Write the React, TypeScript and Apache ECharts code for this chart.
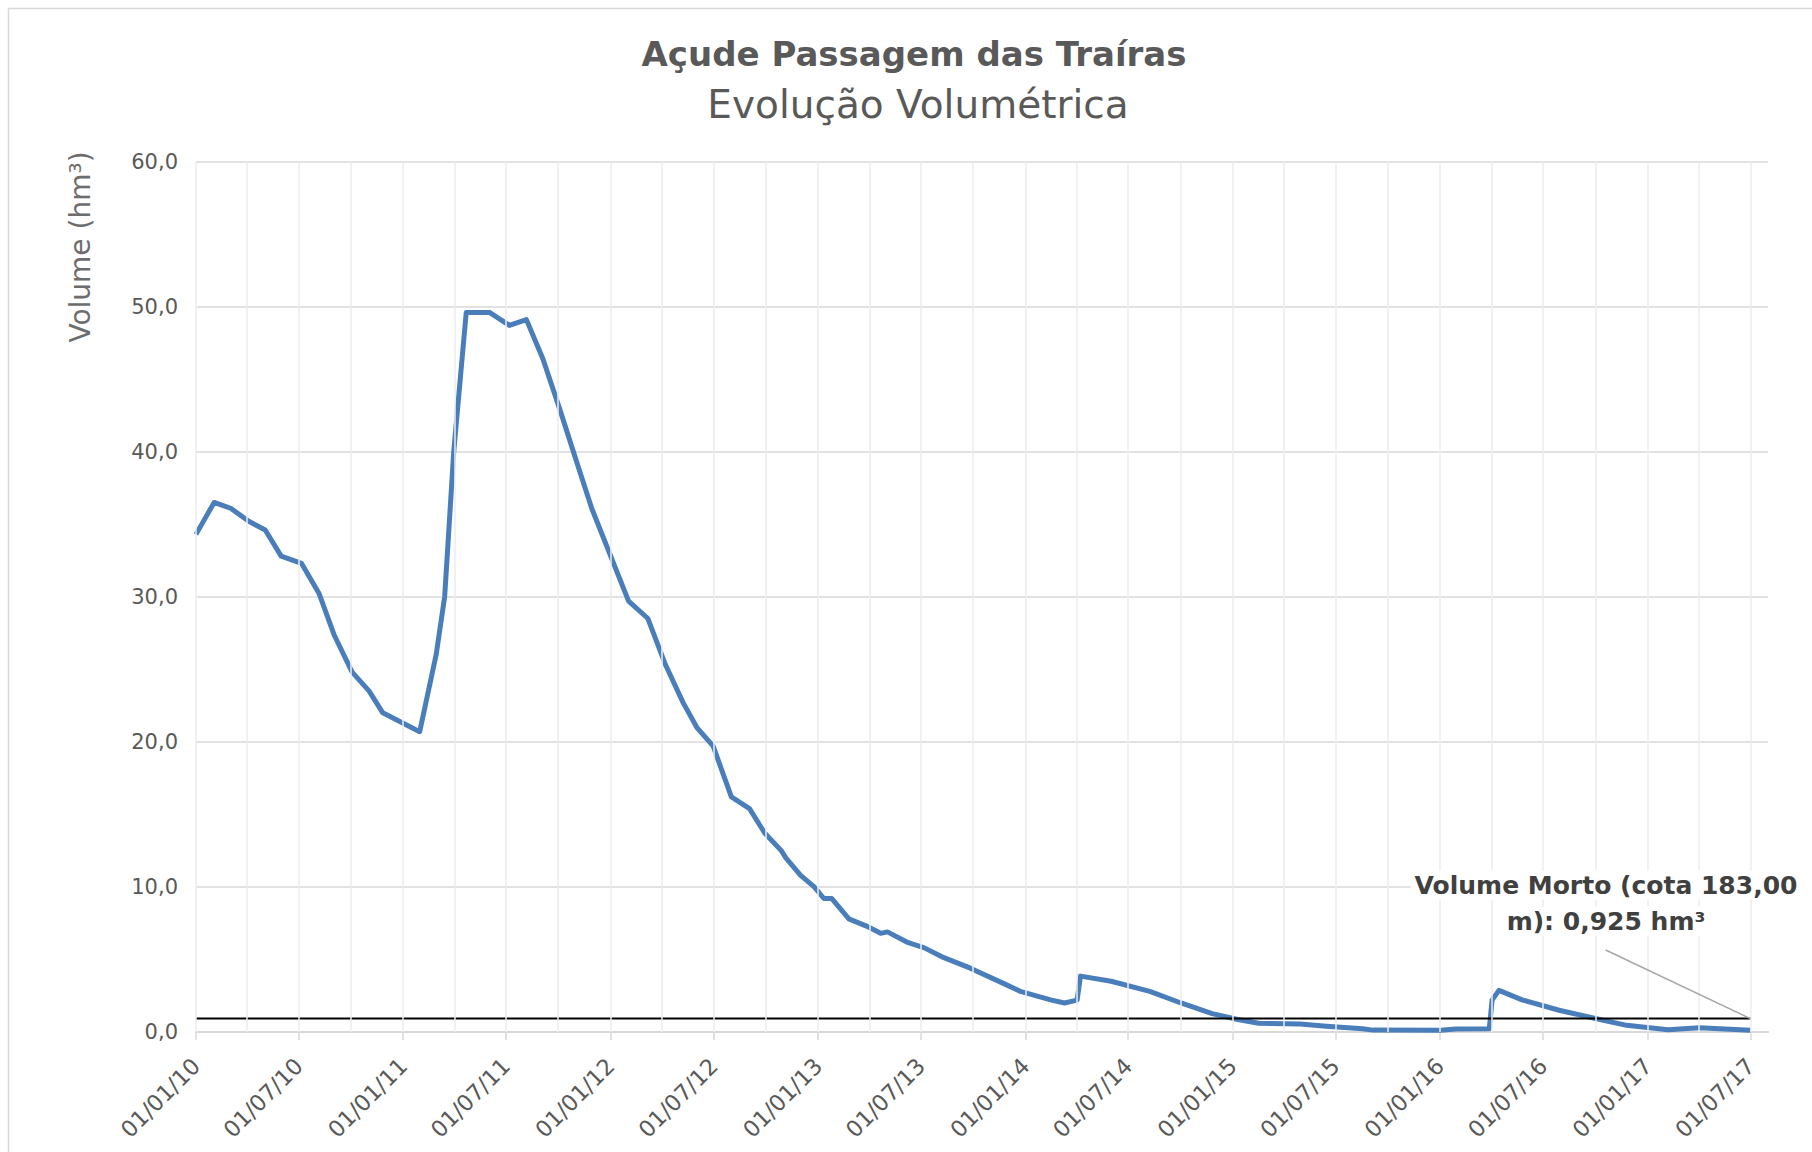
import React, { useEffect, useRef } from "react";
import * as echarts from "echarts";

// Blue series: reservoir volume (hm³) over time
const dates: string[] = [
  "2010-01-01", "2010-02-02", "2010-03-03", "2010-04-04", "2010-05-03", "2010-05-31",
  "2010-07-06", "2010-08-06", "2010-09-01", "2010-10-03", "2010-11-02", "2010-11-26",
  "2011-01-30", "2011-02-28", "2011-03-15", "2011-03-31", "2011-04-22", "2011-06-02",
  "2011-07-07", "2011-08-06", "2011-09-04", "2011-10-04", "2011-11-05", "2011-11-29",
  "2012-02-02", "2012-03-07", "2012-04-06", "2012-05-08", "2012-06-01", "2012-06-30",
  "2012-08-01", "2012-09-02", "2012-09-29", "2012-10-28", "2012-11-05", "2012-12-01",
  "2012-12-25", "2013-01-11", "2013-01-25", "2013-02-24", "2013-03-27", "2013-04-21",
  "2013-05-03", "2013-06-06", "2013-07-07", "2013-08-06", "2013-09-26", "2013-11-26",
  "2013-12-23", "2014-02-16", "2014-03-11", "2014-04-02", "2014-04-08", "2014-06-01",
  "2014-08-08", "2014-10-02", "2014-11-26", "2015-01-10", "2015-02-16", "2015-04-30",
  "2015-06-15", "2015-08-18", "2015-09-05", "2016-01-02", "2016-01-29", "2016-03-28",
  "2016-04-02", "2016-04-14", "2016-05-26", "2016-07-29", "2016-10-01", "2016-11-25",
  "2017-02-06", "2017-04-02", "2017-05-17", "2017-07-01",
];
const volumes: number[] = [
  34.3, 36.5, 36.1, 35.2, 34.6, 32.8,
  32.3, 30.2, 27.4, 24.8, 23.5, 22.0,
  20.7, 26.0, 30.0, 40.0, 49.6, 49.6,
  48.7, 49.1, 46.4, 42.9, 39.0, 36.1,
  29.7, 28.5, 25.4, 22.7, 21.0, 19.7,
  16.2, 15.4, 13.7, 12.5, 12.0, 10.8,
  10.0, 9.2, 9.2, 7.8, 7.3, 6.8,
  6.9, 6.2, 5.8, 5.2, 4.4, 3.3,
  2.8, 2.2, 2.0, 2.2, 3.85, 3.5,
  2.8, 2.0, 1.27, 0.86, 0.6, 0.55,
  0.4, 0.23, 0.13, 0.12, 0.2, 0.22,
  2.2, 2.87, 2.2, 1.5, 0.93, 0.46,
  0.15, 0.3, 0.2, 0.12,
];

// Dead volume reference line
const deadVolume = 0.925;
const deadLineDates: string[] = ["2010-01-01", "2017-07-01"];
// Leader line from annotation to the end of the dead-volume line
const leaderFrom: [string, number] = ["2016-10-19", 5.65];
const leaderTo: [string, number] = ["2017-07-01", 0.925];

// Axis ticks
const tickDates: string[] = [
  "2010-01-01", "2010-07-01", "2011-01-01", "2011-07-01", "2012-01-01", "2012-07-01",
  "2013-01-01", "2013-07-01", "2014-01-01", "2014-07-01", "2015-01-01", "2015-07-01",
  "2016-01-01", "2016-07-01", "2017-01-01", "2017-07-01",
];
const xMin = "2010-01-01";
const xMax = "2017-08-01";
const yMin = 0;
const yMax = 60;
const yStep = 10;

const titleText = "Açude Passagem das Traíras";
const subtitleText = "Evolução Volumétrica";
const yAxisName = "Volume (hm³)";
const noteLines = ["Volume Morto (cota 183,00", "m): 0,925 hm³"];

const FONT = "DejaVu Sans";

const ts = (d: string) => {
  const [y, m, dd] = d.split("-").map(Number);
  return Date.UTC(y, m - 1, dd);
};
const pad = (n: number) => (n < 10 ? "0" + n : "" + n);

export default function App() {
  const ref = useRef<HTMLDivElement>(null);
  useEffect(() => {
    document.body.style.margin = "0";
    const chart = echarts.init(ref.current!, null, { renderer: "svg" });

    const tickTs = tickDates.map(ts);
    // quarterly vertical grid lines
    const quarterLines: { xAxis: number }[] = [];
    for (let y = 2010; y <= 2017; y++) {
      for (let m = 0; m < 12; m += 3) {
        const t = Date.UTC(y, m, 1);
        if (t <= ts("2017-07-01")) quarterLines.push({ xAxis: t });
      }
    }

    const noteStyle = {
      align: "center",
      verticalAlign: "middle",
      fontSize: 25,
      fontWeight: "bold",
      fontFamily: FONT,
      fill: "#404040",
      backgroundColor: "#ffffff",
      padding: [2, 4],
    };

    const option: any = {
      animation: false,
      backgroundColor: "#ffffff",
      grid: { left: 196, right: 44, top: 161.5, bottom: 120, containLabel: false },
      xAxis: {
        type: "value",
        min: ts(xMin),
        max: ts(xMax),
        scale: true,
        axisLine: { show: true, onZero: false, lineStyle: { color: "#d9d9d9", width: 2 } },
        axisTick: {
          show: true,
          customValues: tickTs,
          length: 8,
          lineStyle: { color: "#d9d9d9", width: 1.5 },
        },
        axisLabel: {
          customValues: tickTs,
          rotate: 45,
          margin: 30,
          fontSize: 22.5,
          fontFamily: FONT,
          color: "#595959",
          hideOverlap: false,
          formatter: (v: number) => {
            const d = new Date(v);
            return pad(d.getUTCDate()) + "/" + pad(d.getUTCMonth() + 1) + "/" + pad(d.getUTCFullYear() % 100);
          },
        },
        splitLine: { show: false },
      },
      yAxis: {
        type: "value",
        min: yMin,
        max: yMax,
        interval: yStep,
        axisLine: { show: false },
        axisTick: { show: false },
        axisLabel: {
          margin: 18,
          fontSize: 21,
          fontFamily: FONT,
          color: "#595959",
          formatter: (v: number) => v.toFixed(1).replace(".", ","),
        },
        splitLine: { lineStyle: { color: "#d9d9d9", width: 1.5 } },
      },
      series: [
        {
          type: "line",
          name: "grid",
          silent: true,
          z: 1,
          data: [[ts(xMin), -10]],
          showSymbol: false,
          lineStyle: { opacity: 0 },
          markLine: {
            silent: true,
            symbol: ["none", "none"],
            label: { show: false },
            lineStyle: { color: "#ececec", width: 1.5, type: "solid" },
            data: quarterLines,
          },
        },
        {
          type: "line",
          name: "Volume",
          z: 3,
          data: dates.map((d, i) => [ts(d), volumes[i]]),
          showSymbol: false,
          symbol: "none",
          lineStyle: { color: "#4a7ebb", width: 5, join: "round" },
        },
        {
          type: "line",
          name: "Volume Morto",
          z: 4,
          data: deadLineDates.map((d) => [ts(d), deadVolume]),
          showSymbol: false,
          symbol: "none",
          lineStyle: { color: "#000000", width: 2 },
          markLine: {
            silent: true,
            symbol: ["none", "none"],
            label: { show: false },
            lineStyle: { color: "#a6a6a6", width: 1.5, type: "solid" },
            data: [[{ coord: [ts(leaderFrom[0]), leaderFrom[1]] }, { coord: [ts(leaderTo[0]), leaderTo[1]] }]],
          },
        },
      ],
      graphic: [
        {
          type: "rect",
          silent: true,
          z: -10,
          shape: { x: 8.5, y: 8.5, width: 1830, height: 1170 },
          style: { fill: "none", stroke: "#d9d9d9", lineWidth: 1.5 },
        },
        {
          type: "text",
          x: 914,
          y: 54,
          style: {
            text: titleText,
            align: "center",
            verticalAlign: "middle",
            fontSize: 34,
            fontWeight: "bold",
            fontFamily: FONT,
            fill: "#595959",
          },
        },
        {
          type: "text",
          x: 918,
          y: 104,
          style: {
            text: subtitleText,
            align: "center",
            verticalAlign: "middle",
            fontSize: 39,
            fontFamily: FONT,
            fill: "#595959",
          },
        },
        {
          type: "text",
          x: 80,
          y: 247,
          rotation: Math.PI / 2,
          style: {
            text: yAxisName,
            align: "center",
            verticalAlign: "middle",
            fontSize: 28,
            fontFamily: FONT,
            fill: "#6d6d6d",
          },
        },
        {
          type: "text",
          z: 100,
          x: 1606,
          y: 885,
          style: { ...noteStyle, text: noteLines[0] },
        },
        {
          type: "text",
          z: 100,
          x: 1606,
          y: 921,
          style: { ...noteStyle, text: noteLines[1] },
        },
      ],
    };
    chart.setOption(option);
    return () => chart.dispose();
  }, []);
  return <div ref={ref} style={{ width: 1812, height: 1152 }} />;
}
